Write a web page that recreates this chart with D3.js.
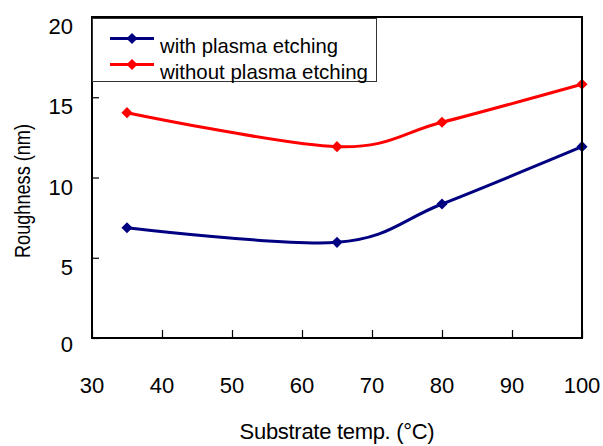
<!DOCTYPE html>
<html>
<head>
<meta charset="utf-8">
<script src="https://cdn.jsdelivr.net/npm/d3@7"></script>
<style>
  body { margin: 0; background: #fff; }
  text { font-family: "Liberation Sans", Arial, sans-serif; fill: #000; }
</style>
</head>
<body>
<svg id="chart" width="603" height="446"></svg>
<script>
// data
let temps = [35, 65, 80, 100]
let withEtch = [6.87, 5.96, 8.35, 11.92]
let withoutEtch = [14.04, 11.92, 13.44, 15.81]
let xTicks = [30, 40, 50, 60, 70, 80, 90, 100]
let yTicks = [0, 5, 10, 15, 20]
let seriesNames = ["with plasma etching", "without plasma etching"]
let seriesColors = ["#000080", "#ff0000"]

let width = 603
let height = 446
let margin = ({top: 17, right: 21, bottom: 108, left: 92})

let x = d3.scaleLinear()
  .domain([30, 100])
  .range([margin.left, width - margin.right])

let y = d3.scaleLinear()
  .domain([0, 20])
  .range([height - margin.bottom, margin.top])

let svg = d3.select("#chart")

// inward ticks
svg.append("g")
  .attr("transform", `translate(0,${y(0)})`)
  .call(d3.axisTop(x).tickValues(xTicks).tickSize(8).tickFormat(""))
  .call(g => g.select(".domain").remove())
  .call(g => g.selectAll("line").attr("stroke", "#000").attr("stroke-width", 1.2))

svg.append("g")
  .attr("transform", `translate(${x(30)},0)`)
  .call(d3.axisRight(y).tickValues(yTicks).tickSize(7).tickFormat(""))
  .call(g => g.select(".domain").remove())
  .call(g => g.selectAll("line").attr("stroke", "#000").attr("stroke-width", 1.2))

// tick labels
svg.append("g").selectAll("text")
  .data(xTicks)
  .join("text")
  .attr("x", d => x(d))
  .attr("y", y(0) + 55)
  .attr("text-anchor", "middle")
  .attr("font-size", 22)
  .text(d => d)

svg.append("g").selectAll("text")
  .data(yTicks)
  .join("text")
  .attr("x", x(30) - 19)
  .attr("y", d => Math.min(y(d) + 17, y(0) + 14))
  .attr("text-anchor", "end")
  .attr("font-size", 22)
  .text(d => d)

// axis titles
svg.append("text")
  .attr("x", 337)
  .attr("y", 439)
  .attr("text-anchor", "middle")
  .attr("font-size", 22)
  .attr("letter-spacing", -0.3)
  .text("Substrate temp. (°C)")

svg.append("text")
  .attr("transform", `translate(30,191) rotate(-90)`)
  .attr("text-anchor", "middle")
  .attr("font-size", 22)
  .attr("textLength", 134)
  .attr("lengthAdjust", "spacingAndGlyphs")
  .text("Roughness (nm)")

// lines
let line = d3.line()
  .x(d => x(d[0]))
  .y(d => y(d[1]))
  .curve(d3.curveCardinal.tension(0))

let diamond = d3.symbol().type(d3.symbolSquare).size(62)

let series = [withEtch, withoutEtch]
series.forEach((vals, i) => {
  let pts = temps.map((t, j) => [t, vals[j]])
  svg.append("path")
    .attr("d", line(pts))
    .attr("fill", "none")
    .attr("stroke", seriesColors[i])
    .attr("stroke-width", 3)
  svg.append("g").selectAll("path")
    .data(pts)
    .join("path")
    .attr("d", diamond)
    .attr("transform", d => `translate(${x(d[0])},${y(d[1])}) rotate(45)`)
    .attr("fill", seriesColors[i])
})

// frame
svg.append("rect")
  .attr("x", x(30))
  .attr("y", y(20))
  .attr("width", x(100) - x(30))
  .attr("height", y(0) - y(20))
  .attr("fill", "none")
  .attr("stroke", "#000")
  .attr("stroke-width", 2)

// legend
let lg = svg.append("g")
lg.append("rect")
  .attr("x", 92.5)
  .attr("y", 18.5)
  .attr("width", 284)
  .attr("height", 63)
  .attr("fill", "#fff")
  .attr("stroke", "#333")
  .attr("stroke-width", 1)

seriesNames.forEach((name, i) => {
  let ly = 38.5 + i * 26
  lg.append("line")
    .attr("x1", 110).attr("x2", 154)
    .attr("y1", ly).attr("y2", ly)
    .attr("stroke", seriesColors[i])
    .attr("stroke-width", 3)
  lg.append("path")
    .attr("d", diamond)
    .attr("transform", `translate(132,${ly}) rotate(45)`)
    .attr("fill", seriesColors[i])
  lg.append("text")
    .attr("x", 160)
    .attr("y", ly + 14)
    .attr("font-size", 21)
    .attr("textLength", i == 0 ? 178 : 208)
    .attr("lengthAdjust", "spacingAndGlyphs")
    .text(name)
})
</script>
</body>
</html>
